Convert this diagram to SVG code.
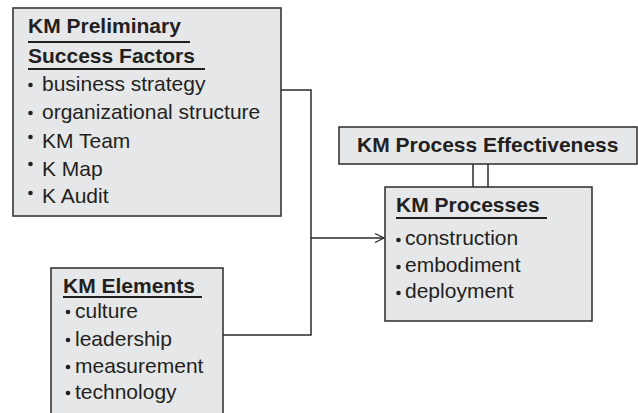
<svg xmlns="http://www.w3.org/2000/svg" width="638" height="413" viewBox="0 0 638 413">
<style>
.box{fill:#e6e7e8;stroke:#2b2b2b;stroke-width:1.5}
.t{font-family:"Liberation Sans",Arial,sans-serif;font-size:21px;fill:#231f20}
.b{font-weight:bold}
.ul{stroke:#231f20;stroke-width:2.2}
.bul{fill:#231f20}
.con{fill:none;stroke:#2b2b2b;stroke-width:1.5}
</style>
<defs>
<marker id="arr" markerWidth="12" markerHeight="12" refX="10" refY="6" orient="auto" markerUnits="userSpaceOnUse">
<path d="M1,1.5 L10,6 L1,10.5" fill="none" stroke="#2b2b2b" stroke-width="1.3"/>
</marker>
</defs>
<rect x="0" y="0" width="638" height="413" fill="#ffffff"/>
<g id="connectors">
<polyline class="con" points="281,90 311,90 311,335 223,335"/>
<line class="con" x1="311" y1="238" x2="384" y2="238" marker-end="url(#arr)"/>
<line class="con" x1="473" y1="164" x2="473" y2="187"/>
<line class="con" x1="488" y1="164" x2="488" y2="187"/>
</g>
<g id="preliminary">
<rect class="box" x="13" y="8" width="268" height="208"/>
<text class="t b" x="28" y="33">KM Preliminary</text>
<line class="ul" x1="28" y1="42" x2="190" y2="42"/>
<text class="t b" x="28" y="63">Success Factors</text>
<line class="ul" x1="28" y1="69" x2="205" y2="69"/>
<circle class="bul" cx="30.5" cy="85" r="2.3"/>
<text class="t" x="42" y="91">business strategy</text>
<circle class="bul" cx="30.5" cy="113" r="2.3"/>
<text class="t" x="42" y="119">organizational structure</text>
<circle class="bul" cx="30.5" cy="137" r="2.3"/>
<text class="t" x="42" y="148">KM Team</text>
<circle class="bul" cx="30.5" cy="164" r="2.3"/>
<text class="t" x="42" y="176">K Map</text>
<circle class="bul" cx="30.5" cy="193" r="2.3"/>
<text class="t" x="42" y="203">K Audit</text>
</g>
<g id="elements">
<rect class="box" x="51" y="268" width="172" height="150"/>
<text class="t b" x="63" y="293">KM Elements</text>
<line class="ul" x1="63" y1="297" x2="202" y2="297"/>
<circle class="bul" cx="68" cy="312" r="2.3"/>
<text class="t" x="75" y="318">culture</text>
<circle class="bul" cx="68" cy="340" r="2.3"/>
<text class="t" x="75" y="346">leadership</text>
<circle class="bul" cx="68" cy="367" r="2.3"/>
<text class="t" x="75" y="373">measurement</text>
<circle class="bul" cx="68" cy="393" r="2.3"/>
<text class="t" x="75" y="399">technology</text>
</g>
<g id="effectiveness">
<rect class="box" x="339" y="127" width="298" height="37"/>
<text class="t b" x="357" y="152">KM Process Effectiveness</text>
</g>
<g id="processes">
<rect class="box" x="385" y="187" width="207" height="134"/>
<text class="t b" x="396" y="212">KM Processes</text>
<line class="ul" x1="396" y1="218" x2="547" y2="218"/>
<circle class="bul" cx="398.5" cy="240" r="2.3"/>
<text class="t" x="405" y="245">construction</text>
<circle class="bul" cx="398.5" cy="267" r="2.3"/>
<text class="t" x="405" y="272">embodiment</text>
<circle class="bul" cx="398.5" cy="293" r="2.3"/>
<text class="t" x="405" y="298">deployment</text>
</g>
</svg>
